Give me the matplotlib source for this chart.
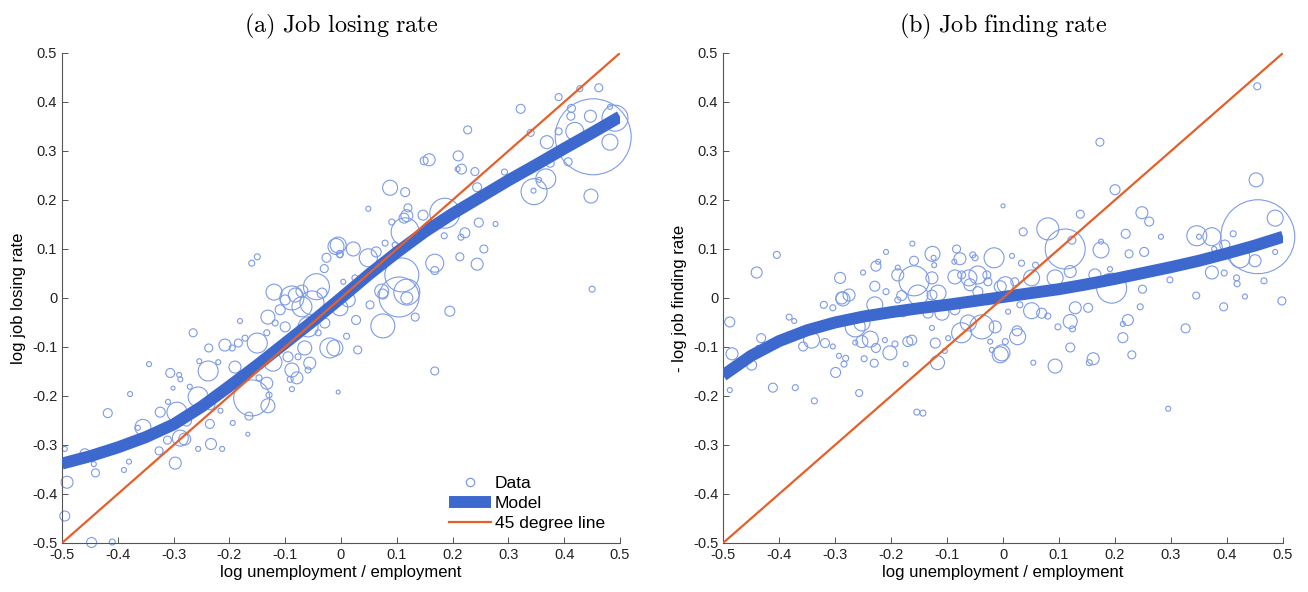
import matplotlib
matplotlib.use("Agg")
import matplotlib.pyplot as plt
from matplotlib.lines import Line2D
import numpy as np

plt.rcParams['font.family'] = ['Liberation Sans', 'DejaVu Sans']
plt.rcParams['mathtext.fontset'] = 'cm'

# ---- panel (a): job losing rate ----
lose_x = [-0.16, -0.15, -0.009, -0.026, -0.002, -0.03, 0.004, -0.12, -0.044, -0.07, -0.088,
          0.462, 0.428, 0.39, 0.482, 0.322, 0.413, 0.412, 0.447, 0.452, 0.491, 0.419, 0.482, 0.39, 0.369, 0.34, 0.407, 0.375,
          0.227, 0.21, 0.158, 0.149, 0.216, 0.209, 0.24, 0.293, 0.367, 0.346, 0.355, 0.345, 0.448, 0.244,
          0.088, 0.115, 0.049, 0.12, 0.113, 0.147, 0.186, 0.247, 0.277, 0.222, 0.215, 0.185, 0.256, 0.213, 0.244, 0.168, 0.168, 0.45,
          0.109, 0.115, -0.005, 0.022, 0.049, 0.063, -0.002, 0.025, 0.073, 0.118, 0.079, 0.097, 0.091, 0.118,
          -0.495, -0.459, -0.443, -0.44, -0.491, -0.495, -0.447, -0.41, -0.418, -0.378, -0.344, -0.38, -0.389, -0.355, -0.364, -0.324, -0.326, -0.297, -0.31, -0.301, -0.306, -0.29, -0.288, -0.311, -0.288, -0.28, -0.294, -0.277,
          -0.265, -0.254, -0.237, -0.238, -0.22, -0.271, -0.256, -0.235, -0.256, -0.233, -0.213, -0.235, -0.216, -0.208, -0.195, -0.184, -0.172, -0.181, -0.15, -0.19, -0.16, -0.194, -0.167, -0.165,
          -0.131, -0.129, -0.133, -0.147, -0.122, -0.131, -0.133, -0.118, -0.1, -0.095, -0.088, -0.088, -0.091, -0.079, -0.07, -0.052, -0.082, -0.1, -0.043, -0.059, -0.041, -0.029, -0.02, -0.065, -0.056, -0.077, -0.059, -0.005, -0.002, -0.034, 0.002, -0.109,
          0.118, 0.104, 0.075, 0.052, 0.027, 0.075, 0.133, 0.195, 0.01, 0.03, -0.011, 0.168, 0.013]
lose_y = [0.071, 0.084, 0.105, 0.082, 0.09, 0.06, 0.033, 0.012, 0.023, 0.014, 0.0,
          0.429, 0.427, 0.41, 0.39, 0.386, 0.387, 0.371, 0.371, 0.329, 0.367, 0.34, 0.318, 0.34, 0.318, 0.337, 0.278, 0.275,
          0.343, 0.29, 0.282, 0.28, 0.263, 0.263, 0.258, 0.257, 0.243, 0.217, 0.241, 0.219, 0.208, 0.226,
          0.225, 0.216, 0.182, 0.184, 0.163, 0.169, 0.173, 0.154, 0.151, 0.133, 0.124, 0.127, 0.1, 0.084, 0.069, 0.071, 0.056, 0.018,
          0.047, 0.135, 0.108, 0.1, 0.082, 0.094, 0.088, 0.041, 0.014, 0.012, 0.112, 0.108, 0.155, 0.168,
          -0.308, -0.318, -0.339, -0.357, -0.376, -0.445, -0.499, -0.498, -0.235, -0.196, -0.135, -0.334, -0.351, -0.264, -0.265, -0.233, -0.312, -0.337, -0.212, -0.184, -0.153, -0.157, -0.166, -0.29, -0.286, -0.288, -0.233, -0.251,
          -0.071, -0.129, -0.102, -0.149, -0.131, -0.181, -0.202, -0.218, -0.308, -0.298, -0.308, -0.257, -0.23, -0.096, -0.102, -0.092, -0.082, -0.047, -0.092, -0.141, -0.204, -0.255, -0.278, -0.241,
          -0.22, -0.198, -0.174, -0.163, -0.131, -0.039, -0.071, -0.051, -0.059, -0.12, -0.147, -0.186, -0.166, -0.163, -0.018, -0.01, 0.006, -0.004, -0.039, -0.059, -0.071, -0.051, -0.102, -0.102, -0.133, -0.12, -0.147, -0.192, -0.02, 0.01, 0.0, -0.024,
          0.0, 0.002, 0.008, -0.014, -0.045, -0.057, -0.039, -0.027, -0.078, -0.106, -0.102, -0.149, -0.004]
lose_w = [3, 3, 8, 4.5, 3.5, 4, 2.5, 8, 13, 6, 12,
          4, 3, 3.5, 2.5, 4.5, 4, 4, 6, 38, 13, 9, 8, 3.5, 6.5, 3.5, 4, 4,
          4, 5, 6, 4, 5, 2.5, 4, 3, 10, 13, 2.5, 2.5, 7, 4.5,
          7.5, 4.5, 2.5, 4, 5, 5, 15, 4.5, 2.5, 5, 3, 3, 4, 4, 6, 9, 4, 3,
          17, 14, 8, 7, 9, 5, 3, 3, 7, 13, 3, 3, 3, 6,
          2.5, 5, 2.5, 4, 6, 5, 5, 3, 4.5, 2.5, 2.5, 2.5, 2.5, 8, 2.5, 5, 4, 6, 2.5, 2, 4.5, 2.5, 2.5, 4, 8, 6, 10, 5,
          4, 2.5, 4, 10, 2.5, 2.5, 10, 5, 2.5, 5.5, 2.5, 4.5, 2.5, 6, 3, 4, 3, 2.5, 10, 6, 18, 2.5, 2, 4,
          7, 3, 6, 3, 9, 7, 3, 3, 5, 5, 7, 2.5, 3, 6, 10, 12, 7, 5, 3, 10, 3, 5, 10, 7, 6, 3, 3, 2, 8, 5, 3, 5,
          6, 20, 5, 4, 4.5, 12, 4, 5, 3, 4, 8, 4, 7]

# ---- panel (b): job finding rate ----
find_x = [-0.44, -0.404, -0.291, -0.288, -0.275, -0.25, -0.227, -0.223, -0.209, -0.229, -0.209, -0.188, -0.188, -0.159, -0.159, -0.162, -0.126, -0.124, -0.123, -0.127,
          -0.083, -0.077, -0.087, -0.054, -0.05, -0.016, 0.0, -0.086, -0.074, -0.061, -0.045, -0.029, -0.027, -0.045, -0.005, -0.116, -0.127, -0.152, -0.181, -0.059,
          0.454, 0.173, 0.452, 0.2, 0.138, 0.248, 0.261, 0.08, 0.036, 0.111, 0.123, 0.175, 0.175, 0.219, 0.282, 0.346, 0.35, 0.373, 0.411, 0.455,
          0.486, 0.486, 0.423, 0.45, 0.377, 0.396, 0.373, 0.395, 0.417, 0.418, 0.466, 0.432, 0.345, 0.298, 0.252, 0.225, 0.249, 0.191, 0.194, 0.164,
          0.016, 0.033, 0.058, 0.12, 0.093, 0.051, 0.021, 0.004,
          -0.488, -0.484, -0.488, -0.449, -0.432, -0.437, -0.411, -0.382, -0.373, -0.371, -0.337, -0.357, -0.32, -0.304, -0.286, -0.318, -0.304, -0.342, -0.293, -0.281,
          -0.284, -0.299, -0.264, -0.257, -0.248, -0.23, -0.252, -0.237, -0.227, -0.211, -0.202, -0.193, -0.174, -0.17, -0.163, -0.154, -0.143, -0.121, -0.117, -0.104,
          -0.098, -0.127, -0.074, -0.038, -0.023, -0.02, -0.005, -0.264, -0.252, -0.229, -0.188, -0.179, -0.134, -0.109, -0.086, -0.062,
          0.009, 0.03, 0.051, 0.069, 0.08, -0.014, 0.025, 0.026, 0.004, -0.002, 0.054, 0.093, 0.12, 0.098, 0.12, 0.124, 0.129, 0.152, 0.161, 0.154,
          0.223, 0.214, 0.214, 0.23, 0.245, 0.295, 0.326, 0.394, 0.498]
find_y = [0.052, 0.088, 0.041, 0.0, 0.006, 0.052, 0.065, 0.074, 0.094, 0.024, 0.013, 0.062, 0.047, 0.035, 0.076, 0.111, 0.09, 0.082, 0.067, 0.041,
          0.1, 0.08, 0.074, 0.088, 0.082, 0.082, 0.188, 0.043, 0.047, 0.041, 0.047, 0.047, 0.033, 0.013, 0.023, 0.01, 0.006, 0.006, 0.005, 0.027,
          0.432, 0.318, 0.241, 0.221, 0.171, 0.174, 0.156, 0.141, 0.135, 0.1, 0.118, 0.115, 0.098, 0.131, 0.125, 0.127, 0.125, 0.125, 0.131, 0.125,
          0.163, 0.094, 0.082, 0.076, 0.1, 0.108, 0.052, 0.051, 0.041, 0.029, 0.035, 0.003, 0.005, 0.037, 0.094, 0.09, 0.018, 0.059, 0.02, 0.047,
          0.086, 0.071, 0.067, 0.054, 0.041, 0.041, 0.033, 0.027,
          -0.049, -0.114, -0.188, -0.137, -0.082, -0.102, -0.183, -0.039, -0.047, -0.183, -0.21, -0.099, -0.014, -0.02, -0.002, -0.092, -0.099, -0.086, -0.118, -0.123,
          -0.135, -0.152, -0.091, -0.194, -0.124, -0.133, -0.089, -0.084, -0.102, -0.086, -0.112, -0.094, -0.135, -0.089, -0.086, -0.233, -0.235, -0.092, -0.132, -0.108,
          -0.082, -0.061, -0.071, -0.059, -0.089, -0.106, -0.116, -0.059, -0.051, -0.014, -0.004, -0.028, -0.031, -0.031, -0.024, -0.051,
          -0.028, -0.014, -0.026, -0.031, -0.037, -0.059, -0.067, -0.079, -0.089, -0.112, -0.132, -0.139, -0.101, -0.059, -0.048, -0.063, -0.02, -0.02, -0.124, -0.132,
          -0.045, -0.053, -0.081, -0.116, -0.018, -0.226, -0.062, -0.018, -0.006]
find_w = [5.5, 3.5, 5.5, 6, 6, 2.5, 5, 2.5, 2.5, 5, 3, 2.5, 6, 15, 4.5, 2.5, 7.5, 2.5, 2.5, 6,
          4, 6, 2.5, 3, 3, 10, 2, 7, 4, 8, 9, 4, 4, 5, 6, 8, 5, 10, 5, 6,
          3.5, 4, 7, 5, 4, 6, 4.5, 11, 4, 20, 4, 2.5, 8, 4.5, 2.5, 10, 2.5, 9, 3, 37,
          8, 2.5, 10, 6, 2.5, 5, 6.5, 3, 3, 3, 3, 2.5, 3.5, 3, 4.5, 4, 4, 2.5, 15, 6,
          2.5, 3, 3, 6, 8, 8, 4, 8,
          5, 6, 2.5, 5, 4.5, 2.5, 4.5, 3, 2.5, 3, 3, 4.5, 3.5, 3, 7, 4.5, 2.5, 8, 2.5, 3,
          3, 5, 2.5, 3.5, 3, 4, 6, 8, 4.5, 2.5, 7, 3, 2.5, 5, 5, 3, 3, 5, 7, 2.5,
          2.5, 2.5, 10, 12, 2.5, 2.5, 8, 10, 8, 8, 3, 5, 5, 7, 5, 8,
          2.5, 3, 8, 5, 3, 6, 5, 8, 3, 8, 2.5, 7, 4.5, 3, 7, 3, 6, 4.5, 6, 3,
          5.5, 2.5, 5, 4, 3, 2.5, 4.5, 4, 4]

# model curves, read every 0.05
model_x = [-0.5, -0.45, -0.4, -0.35, -0.3, -0.25, -0.2, -0.15, -0.1, -0.05, 0.0,
           0.05, 0.1, 0.15, 0.2, 0.25, 0.3, 0.35, 0.4, 0.45, 0.5]
model_lose = [-0.338, -0.323, -0.305, -0.284, -0.258, -0.222, -0.18, -0.137, -0.092, -0.047, 0.0,
              0.048, 0.093, 0.135, 0.172, 0.206, 0.24, 0.272, 0.305, 0.337, 0.37]
model_find = [-0.158, -0.118, -0.088, -0.066, -0.05, -0.038, -0.029, -0.021, -0.014, -0.006, 0.002,
              0.01, 0.018, 0.028, 0.039, 0.051, 0.063, 0.076, 0.091, 0.107, 0.125]

ticks = [-0.5, -0.4, -0.3, -0.2, -0.1, 0.0, 0.1, 0.2, 0.3, 0.4, 0.5]
tick_labels = ['-0.5', '-0.4', '-0.3', '-0.2', '-0.1', '0', '0.1', '0.2', '0.3', '0.4', '0.5']

assert len(lose_x) == len(lose_y) == len(lose_w)
assert len(find_x) == len(find_y) == len(find_w)

DATA_C = '#7d9be6'
MODEL_C = '#3d69cf'
LINE_C = '#e5602a'


def draw_panel(ax, x, y, w, model, title, ylabel):
    s = 2.07 * np.array(w) ** 2
    ax.scatter(x, y, s=s, facecolors='none', edgecolors=DATA_C, linewidths=0.8,
               zorder=2, clip_on=False)
    ax.plot(model_x, model, color=MODEL_C, lw=8.6, solid_capstyle='butt', zorder=3)
    ax.plot([-0.5, 0.5], [-0.5, 0.5], color=LINE_C, lw=1.6, zorder=4)
    ax.set_xlim(-0.5, 0.5)
    ax.set_ylim(-0.5, 0.5)
    ax.set_xticks(ticks)
    ax.set_xticklabels(tick_labels)
    ax.set_yticks(ticks)
    ax.set_yticklabels(tick_labels)
    ax.tick_params(direction='in', length=4, width=0.7, colors='#555555',
                   labelcolor='#222222', labelsize=10.5)
    for side in ['top', 'right']:
        ax.spines[side].set_visible(False)
    for side in ['left', 'bottom']:
        ax.spines[side].set_color('#555555')
        ax.spines[side].set_linewidth(0.8)
    ax.set_xlabel('log unemployment / employment', fontsize=12, labelpad=2)
    ax.set_ylabel(ylabel, fontsize=12, labelpad=4)
    ax.set_title(title, fontsize=17.5, pad=15)


fig = plt.figure(figsize=(13.08, 5.92), dpi=100)
ax1 = fig.add_axes([0.0474, 0.0828, 0.4266, 0.8277])
ax2 = fig.add_axes([0.5528, 0.0828, 0.4281, 0.8277])

draw_panel(ax1, lose_x, lose_y, lose_w, model_lose,
           r'$\mathrm{(a)\ Job\ losing\ rate}$', 'log job losing rate')
draw_panel(ax2, find_x, find_y, find_w, model_find,
           r'$\mathrm{(b)\ Job\ finding\ rate}$', '- log job finding rate')

handles = [Line2D([], [], ls='none', marker='o', ms=6, mfc='none', mec=DATA_C, mew=0.9),
           Line2D([], [], color=MODEL_C, lw=8.6, solid_capstyle='butt'),
           Line2D([], [], color=LINE_C, lw=1.6)]
ax1.legend(handles, ['Data', 'Model', '45 degree line'], loc='lower right',
           bbox_to_anchor=(0.995, 0.0), frameon=False, fontsize=12.5,
           handlelength=2.4, handletextpad=0.25, labelspacing=0.28, borderaxespad=0.3)

fig.savefig('out.png', dpi=100)
plt.close(fig)
